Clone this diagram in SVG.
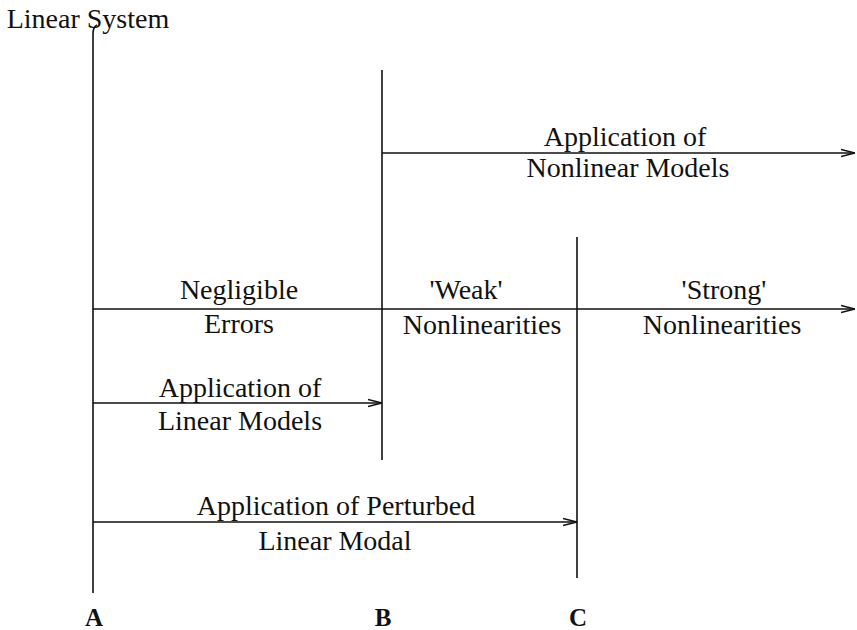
<svg xmlns="http://www.w3.org/2000/svg" width="857" height="630" viewBox="0 0 857 630">
<style>
text{font-family:"Liberation Serif","Times New Roman",serif;font-size:28px;fill:#111;text-anchor:middle}
.ln{stroke:#111;stroke-width:1.6;fill:none}
.lbl{font-size:25px;font-weight:bold}
</style>
<defs>
<marker id="ah" viewBox="0 0 14 10" refX="14" refY="5" markerWidth="14" markerHeight="10" markerUnits="userSpaceOnUse" orient="auto">
<path d="M0,1.5 L14,5 L0,8.5" fill="none" stroke="#111" stroke-width="1.6"/>
</marker>
</defs>
<rect width="857" height="630" fill="#fff"/>
<g id="title"><text x="88" y="28">Linear System</text></g>
<g id="axisA"><text class="lbl" x="94" y="626">A</text></g>
<g id="axisB"><text class="lbl" x="383" y="626">B</text></g>
<g id="axisC"><text class="lbl" x="578" y="626">C</text></g>
<g id="connectors">
<path class="ln" d="M97,25 Q93,27 93,34 L93,593"/>
<line class="ln" x1="382" y1="70" x2="382" y2="460"/>
<line class="ln" x1="577" y1="237" x2="577" y2="578"/>
<line class="ln" x1="382" y1="153" x2="855" y2="153" marker-end="url(#ah)"/>
<line class="ln" x1="93" y1="309" x2="855" y2="309" marker-end="url(#ah)"/>
<line class="ln" x1="93" y1="403" x2="382" y2="403" marker-end="url(#ah)"/>
<line class="ln" x1="93" y1="522" x2="577" y2="522" marker-end="url(#ah)"/>
</g>
<g id="nonlinear"><text x="625" y="146">Application of</text><text x="628" y="177">Nonlinear Models</text></g>
<g id="negligible"><text x="239" y="299">Negligible</text><text x="239" y="333">Errors</text></g>
<g id="weak"><text x="466" y="299">'Weak'</text><text x="482" y="334">Nonlinearities</text></g>
<g id="strong"><text x="724" y="299">'Strong'</text><text x="722" y="334">Nonlinearities</text></g>
<g id="linear"><text x="240" y="397">Application of</text><text x="240" y="430">Linear Models</text></g>
<g id="perturbed"><text x="336" y="515">Application of Perturbed</text><text x="335" y="550">Linear Modal</text></g>
</svg>
